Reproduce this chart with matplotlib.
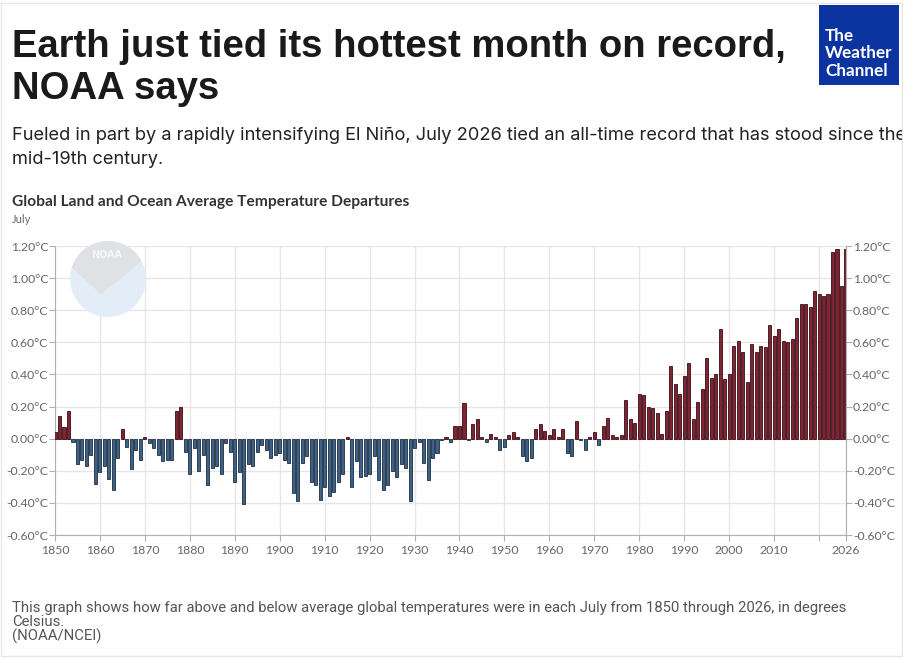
import matplotlib
matplotlib.use("Agg")
import matplotlib.pyplot as plt
import matplotlib.patches as mpatches
import matplotlib.transforms as mtransforms
import numpy as np

# July global land+ocean temperature departures (deg C)
years = np.arange(1850, 2027)
temps = [
    0.04, 0.14, 0.07, 0.17, -0.02, -0.16, -0.13, -0.17, -0.10, -0.28,   # 1850s
    -0.21, -0.17, -0.25, -0.32, -0.12, 0.06, -0.05, -0.19, -0.07, -0.13,  # 1860s
    0.01, -0.03, -0.06, -0.10, -0.14, -0.13, -0.13, 0.17, 0.20, -0.08,    # 1870s
    -0.22, -0.06, -0.20, -0.10, -0.29, -0.18, -0.17, -0.22, -0.03, -0.08, # 1880s
    -0.27, -0.21, -0.41, -0.16, -0.17, -0.08, -0.04, -0.07, -0.12, -0.10, # 1890s
    -0.09, -0.13, -0.15, -0.34, -0.39, -0.15, -0.11, -0.27, -0.29, -0.38, # 1900s
    -0.30, -0.36, -0.33, -0.27, -0.22, 0.01, -0.30, -0.14, -0.24, -0.23,  # 1910s
    -0.22, -0.11, -0.26, -0.32, -0.29, -0.20, -0.24, -0.16, -0.18, -0.39, # 1920s
    -0.06, -0.02, -0.15, -0.26, -0.12, -0.09, -0.01, 0.01, -0.02, 0.08,   # 1930s
    0.08, 0.22, -0.01, 0.09, 0.12, 0.01, -0.02, 0.03, 0.01, -0.07,        # 1940s
    -0.05, 0.02, 0.04, 0.01, -0.11, -0.14, -0.12, 0.06, 0.09, 0.05,       # 1950s
    0.02, 0.06, 0.01, 0.06, -0.09, -0.11, 0.11, -0.01, -0.07, 0.01,       # 1960s
    0.04, -0.04, 0.08, 0.13, 0.02, 0.01, 0.02, 0.24, 0.12, 0.10,          # 1970s
    0.28, 0.27, 0.20, 0.19, 0.16, 0.03, 0.17, 0.45, 0.34, 0.28,           # 1980s
    0.39, 0.47, 0.12, 0.23, 0.31, 0.50, 0.38, 0.40, 0.68, 0.37,           # 1990s
    0.40, 0.58, 0.61, 0.54, 0.35, 0.59, 0.54, 0.58, 0.57, 0.71,           # 2000s
    0.64, 0.68, 0.61, 0.60, 0.62, 0.75, 0.84, 0.84, 0.82, 0.92,           # 2010s
    0.90, 0.89, 0.90, 1.16, 1.18, 0.95, 1.18,                             # 2020s
]
y_ticks = [-0.6, -0.4, -0.2, 0.0, 0.2, 0.4, 0.6, 0.8, 1.0, 1.2]
x_ticks = [1850, 1860, 1870, 1880, 1890, 1900, 1910, 1920, 1930, 1940,
           1950, 1960, 1970, 1980, 1990, 2000, 2010, 2020, 2026]
x_labels = [str(t) if t != 2020 else "" for t in x_ticks]
footnote = [
    "This graph shows how far above and below average global temperatures were in each July from 1850 through 2026, in degrees",
    "Celsius.",
    "(NOAA/NCEI)",
]

W, H = 910, 660
fig = plt.figure(figsize=(W / 100, H / 100), dpi=100)
fig.patch.set_facecolor("white")
ident = mtransforms.IdentityTransform()


def fx(x):
    return x / W


def fy(y):
    return 1 - y / H


def fit(t, width_px):
    r = fig.canvas.get_renderer()
    bb = t.get_window_extent(r)
    t.set_fontsize(t.get_fontsize() * width_px / bb.width)


# outer frame
fig.add_artist(mpatches.Rectangle((1, H - 656), 901, 653, transform=ident,
                                  fill=False, edgecolor="#e6e6e6", lw=1, zorder=1))

# headline
t1 = fig.text(fx(12), fy(57), "Earth just tied its hottest month on record,",
              family="Liberation Sans", weight="bold", color="#1a1a1a", fontsize=28, va="baseline")
fit(t1, 773)
fig.text(fx(12), fy(99), "NOAA says", family="Liberation Sans", weight="bold",
         color="#1a1a1a", fontsize=t1.get_fontsize(), va="baseline")

# weather channel logo
fig.add_artist(mpatches.Rectangle((819, H - 85), 80, 80, transform=ident,
                                  facecolor="#0b34a0", edgecolor="none", zorder=2))
lw_ = fig.text(fx(825), fy(58.5), "Weather", family="Lato", weight="bold",
               color="white", fontsize=12, va="baseline", zorder=3)
fit(lw_, 67)
for word, yb in [("The", 41), ("Channel", 76)]:
    fig.text(fx(825), fy(yb), word, family="Lato", weight="bold", color="white",
             fontsize=lw_.get_fontsize(), va="baseline", zorder=3)

# subtitle
s1 = fig.text(fx(12), fy(140),
              "Fueled in part by a rapidly intensifying El Niño, July 2026 tied an all-time record that has stood since the",
              family="Inter", color="#222222", fontsize=13, va="baseline")
fit(s1, 896)
fig.text(fx(12), fy(164), "mid-19th century.", family="Inter", color="#222222",
         fontsize=s1.get_fontsize(), va="baseline")

# chart title
ct = fig.text(fx(12), fy(206), "Global Land and Ocean Average Temperature Departures",
              family="Lato", weight="bold", color="#333333", fontsize=10, va="baseline")
fit(ct, 397)
fig.text(fx(12), fy(223), "July", family="Lato", color="#666666", fontsize=8, va="baseline")

# NOAA watermark
disc = mpatches.Circle((108, H - 279), 38, transform=ident,
                       facecolor="#e2edf7", edgecolor="none", zorder=1)
fig.add_artist(disc)
bird = [(60, 236), (160, 236), (149, 255), (120, 279), (101, 294), (70, 266), (60, 262)]
top = mpatches.Polygon([(x, H - y) for x, y in bird], closed=True, transform=ident,
                       facecolor="#e0e1e4", edgecolor="none", zorder=1)
fig.add_artist(top)
top.set_clip_path(disc)
fig.text(fx(107), fy(255), "NOAA", family="DejaVu Sans", weight="bold", color="#f6f6f6",
         fontsize=7, ha="center", va="center", zorder=2)

# chart axes
ax = fig.add_axes([fx(55), fy(535), fx(846) - fx(55), fy(246) - fy(535)])
ax.patch.set_alpha(0)
colors = ["#7e2433" if v >= 0 else "#3d6187" for v in temps]
edges = ["#3a0d15" if v >= 0 else "#1d2d3f" for v in temps]
ax.bar(years, temps, width=0.68, color=colors, edgecolor=edges, linewidth=0.6, zorder=3)

ax.set_xlim(1850, 2026)
ax.set_ylim(-0.6, 1.2)
ax.set_xticks(x_ticks)
ax.set_xticklabels(x_labels)
ax.set_yticks(y_ticks)
ax.set_yticklabels([f"{v:.2f}°C" for v in y_ticks])
ax.grid(True, color="#e6e6e6", lw=1, zorder=0)
for s in ["top", "right"]:
    ax.spines[s].set_visible(False)
for s in ["left", "bottom"]:
    ax.spines[s].set_color("#b0b0b0")
ax.tick_params(axis="both", colors="#b0b0b0", length=4, labelcolor="#666666", labelsize=8.8)
ax.tick_params(axis="y", pad=1)
for lab in ax.get_xticklabels() + ax.get_yticklabels():
    lab.set_family("Lato")

ax2 = ax.twinx()
ax2.set_ylim(-0.6, 1.2)
ax2.set_yticks(y_ticks)
ax2.set_yticklabels([f"{v:.2f}°C" for v in y_ticks])
for s in ["top", "left", "bottom"]:
    ax2.spines[s].set_visible(False)
ax2.spines["right"].set_color("#b0b0b0")
ax2.tick_params(axis="y", colors="#b0b0b0", length=4, labelcolor="#666666", labelsize=8.8, pad=1)
for lab in ax2.get_yticklabels():
    lab.set_family("Lato")

# footnote
f0 = fig.text(fx(12), fy(612), footnote[0], family="Roboto", color="#555555",
              fontsize=9, va="baseline")
fit(f0, 846)
for i, line in enumerate(footnote[1:], start=1):
    fig.text(fx(12), fy(612 + 14.5 * i), line, family="Roboto", color="#555555",
             fontsize=f0.get_fontsize(), va="baseline")

# mask right edge (subtitle runs past the frame)
fig.add_artist(mpatches.Rectangle((903, 0), 10, H, transform=ident,
                                  facecolor="white", edgecolor="none", zorder=10))
fig.add_artist(mpatches.Rectangle((902, 3), 1, H - 6, transform=ident,
                                  facecolor="#e6e6e6", edgecolor="none", zorder=11))

fig.savefig("out.png", dpi=100)
